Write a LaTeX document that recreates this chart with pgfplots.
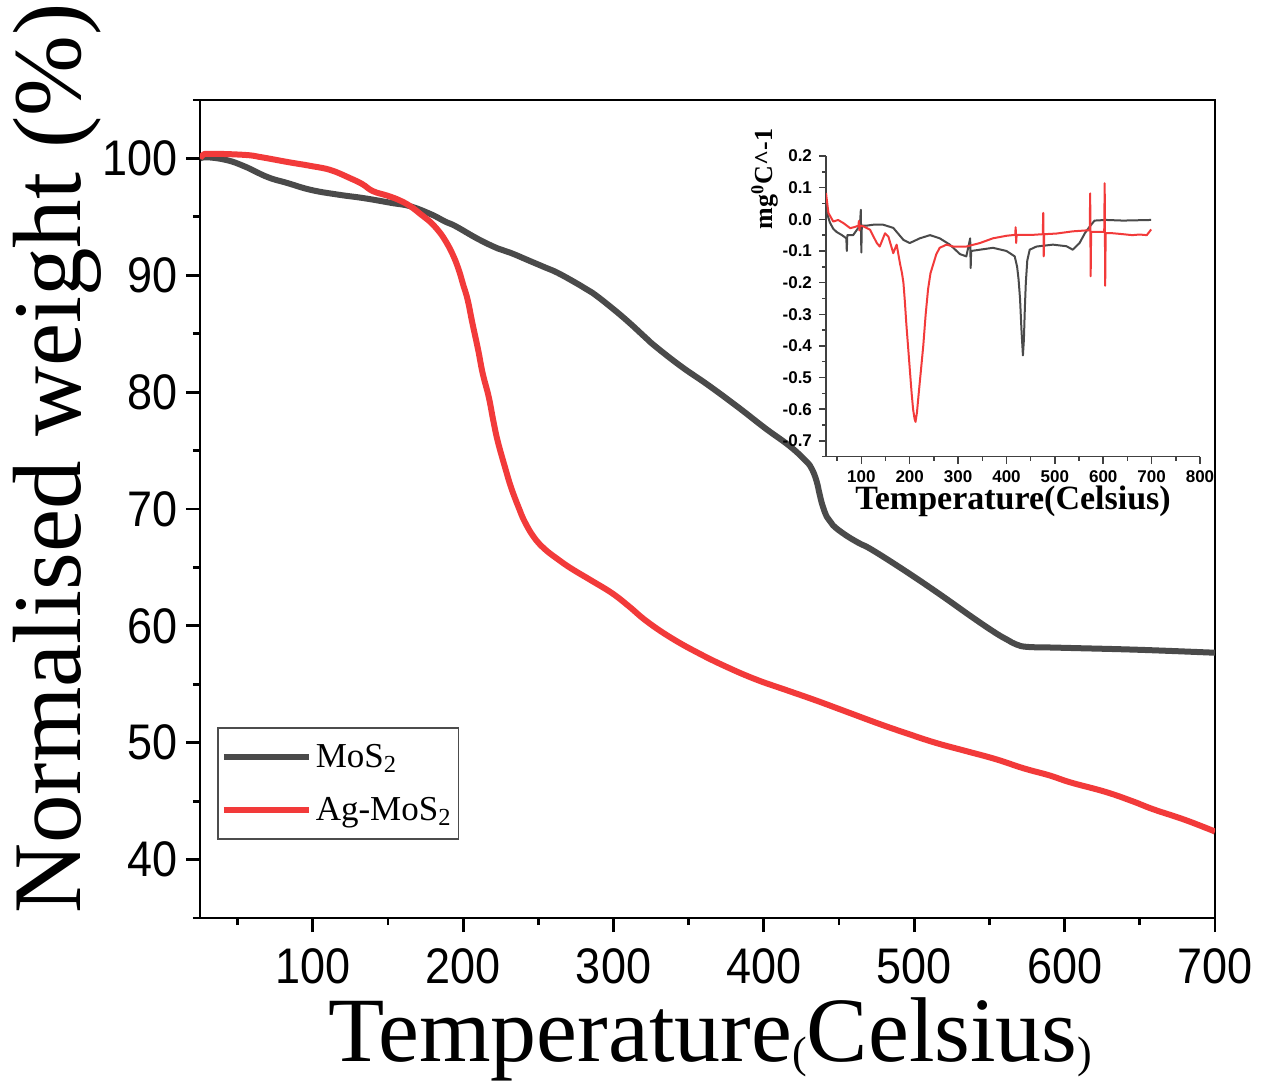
\documentclass[border=0pt]{standalone}
\usepackage{fontspec}
\setmainfont{Liberation Serif}
\setsansfont{Liberation Sans}
\usepackage{pgfplots}
\pgfplotsset{compat=1.18}
\definecolor{mgray}{RGB}{74,74,74}
\definecolor{mred}{RGB}{242,58,58}

\begin{document}
\begin{tikzpicture}
\useasboundingbox (-100pt,-82pt) rectangle (531pt,459pt);
\begin{axis}[
 at={(0pt,0pt)}, anchor=south west,
 width=507.5pt, height=409pt, scale only axis,
 xmin=25, xmax=700, ymin=35, ymax=105,
 xtick={100,200,...,700}, ytick={40,50,...,100},
 minor xtick={50,150,...,650}, minor ytick={35,45,...,105},
 tick pos=left, tick align=outside,
 major tick length=7pt, minor tick length=3.5pt,
 axis line style={line width=1.4pt},
 every tick/.style={black, line width=1.4pt},
 /pgf/number format/assume math mode=true,
 tick label style={font=\fontsize{25}{25}\selectfont\sffamily},
 xticklabel={\scalebox{0.9}[1]{\pgfmathprintnumber{\tick}}},
 yticklabel={\scalebox{0.9}[1]{\pgfmathprintnumber{\tick}}},
 xticklabel style={yshift=-5pt},
 yticklabel style={xshift=-0.5pt},
 xlabel={Temperature{\fontsize{22}{22}\selectfont\raisebox{-3pt}{(}}Celsius{\fontsize{22}{22}\selectfont\raisebox{-3pt}{)}}},
 ylabel={Normalised weight (\%)},
 xlabel style={at={(axis description cs:0.503,-0.176)}, anchor=base, font=\fontsize{46}{46}\selectfont, inner sep=0pt},
 ylabel style={at={(axis description cs:-0.118,0.562)}, anchor=base, font=\fontsize{48.5}{48.5}\selectfont, inner sep=0pt},
 legend style={at={(axis description cs:0.01675,0.0954)}, anchor=south west, draw=black!70, line width=0.75pt,
   font=\fontsize{17.5}{20}\selectfont, inner xsep=1.5pt, inner ysep=6pt, row sep=9.5pt},
 legend cell align=left,
 legend image code/.code={\draw[#1,line width=3pt] (0pt,0pt) -- (42.5pt,0pt);},
]
\addplot[mgray, line width=3pt, smooth, tension=0.7, line join=round] coordinates {
(25,100.0) (30,100.1) (43,99.85) (55,99.3) (70,98.4) (83,97.9) (99,97.3) (117,96.9) (134,96.6) (152,96.2)
(165,95.9) (179,95.2) (188,94.6) (195,94.2) (210,93.1) (223,92.3) (232,91.9) (243,91.3) (254,90.7) (263,90.2)
(277,89.2) (286,88.5) (299,87.2) (310,86.0) (321,84.7) (328,83.9) (345,82.2) (363,80.6) (383,78.7) (401,76.9)
(417,75.4) (428,74.1) (432,73.4) (435,72.4) (437,71.3) (439,70.3) (442,69.3) (446,68.6) (454,67.8) (463,67.1)
(472,66.5) (494,64.7) (517,62.7) (539,60.7) (554,59.4) (562,58.8) (568,58.4) (575,58.2) (590,58.15) (606,58.1)
(650,57.95) (700,57.7)
};
\addlegendentry{MoS\textsubscript{2}}
\addplot[mred, line width=3pt, smooth, tension=0.7, line join=round] coordinates {
(25,100.0) (27,100.3) (32,100.4) (55,100.3) (66,100.1) (83,99.7) (99,99.35) (112,99.0) (125,98.3) (133,97.8)
(140,97.2) (150,96.8) (158,96.4) (165,95.9) (172,95.2) (177,94.7) (183,93.9) (188,93.0) (193,91.8) (197,90.5)
(200,89.2) (203,87.9) (206,86.0) (210,83.6) (213,81.6) (217,79.6) (220,77.6) (223,75.8) (228,73.5) (232,71.8)
(237,70.1) (241,68.9) (247,67.6) (254,66.6) (263,65.7) (272,64.9) (285,63.9) (299,62.8) (310,61.7) (322,60.4) (338,59.0) (356,57.7)
(375,56.5) (395,55.4) (415,54.5) (435,53.6) (456,52.6) (477,51.6) (495,50.8) (514,50.0) (534,49.3) (554,48.6) (573,47.8) (590,47.2) (604,46.6) (627,45.8) (645,45.0) (659,44.3) (680,43.4)
(700,42.4)
};
\addlegendentry{Ag-MoS\textsubscript{2}}
\end{axis}

\begin{axis}[
 at={(313pt,230.65pt)}, anchor=south west,
 width=187pt, height=150.35pt, scale only axis,
 xmin=27, xmax=800, ymin=-0.75, ymax=0.2,
 axis lines*=left,
 xtick={100,200,...,800}, ytick={-0.7,-0.6,-0.5,-0.4,-0.3,-0.2,-0.1,0,0.1,0.2},
 minor xtick={50,150,...,750}, minor ytick={-0.75,-0.65,-0.55,-0.45,-0.35,-0.25,-0.15,-0.05,0.05,0.15},
 tick align=outside,
 major tick length=3.5pt, minor tick length=2pt,
 axis line style={line width=0.75pt, black!75},
 every tick/.style={black!75, line width=0.75pt},
 /pgf/number format/assume math mode=true,
 yticklabel style={/pgf/number format/.cd, fixed, fixed zerofill, precision=1},
 tick label style={font=\fontsize{8.5}{8.5}\selectfont\sffamily\bfseries},
 xlabel={Temperature(Celsius)},
 ylabel={mg\textsuperscript{0}C\textasciicircum-1},
 xlabel style={at={(axis description cs:0.5,-0.177)}, anchor=base, font=\fontsize{17}{17}\selectfont\bfseries, inner sep=0pt},
 ylabel style={at={(axis description cs:-0.144,0.9235)}, anchor=base, font=\fontsize{13}{13}\selectfont\bfseries, inner sep=0pt},
]
\addplot[mgray, line width=1pt, line join=round] coordinates {
(27,0.03) (35,-0.01) (42,-0.03) (49,-0.04) (60,-0.05) (69,-0.06) (70,-0.10) (71,-0.05) (83,-0.05) (97,-0.02)
(99,0.03) (100,-0.105) (101,-0.02) (111,-0.02) (125,-0.017) (145,-0.017) (166,-0.027) (187,-0.065) (200,-0.075)
(221,-0.06) (242,-0.05) (262,-0.06) (283,-0.08) (304,-0.11) (317,-0.117) (325,-0.06) (326,-0.154) (327,-0.10)
(345,-0.096) (372,-0.09) (400,-0.10) (417,-0.117) (422,-0.15) (425,-0.19) (428,-0.25) (431,-0.35) (434,-0.43) (436,-0.38) (438,-0.28)
(440,-0.20) (443,-0.13) (448,-0.096) (462,-0.086) (496,-0.08) (524,-0.085) (537,-0.096) (551,-0.075) (562,-0.044)
(572,-0.023) (582,-0.004) (606,-0.002) (641,-0.004) (699,-0.002)
};
\addplot[mred, line width=1pt, line join=round] coordinates {
(27,0.083) (32,0.02) (42,-0.007) (52,-0.002) (63,-0.012) (77,-0.028) (87,-0.024) (94,-0.02) (95,-0.005) (96,-0.035)
(97,-0.02) (104,-0.022) (118,-0.033) (132,-0.075) (138,-0.086) (149,-0.044) (156,-0.055) (166,-0.107) (173,-0.08)
(180,-0.14) (184,-0.17) (187,-0.20) (190,-0.26) (193,-0.33) (197,-0.41) (200,-0.47) (204,-0.55) (207,-0.60) (210,-0.63) (212,-0.64) (215,-0.61) (218,-0.56)
(223,-0.48) (228,-0.40) (233,-0.30) (238,-0.22) (243,-0.17)
(249,-0.14) (255,-0.11) (262,-0.09) (276,-0.08) (290,-0.086) (317,-0.086) (345,-0.075) (372,-0.06) (400,-0.052) (418,-0.049)
(419,-0.025) (420,-0.075) (421,-0.049) (455,-0.049) (475,-0.047) (476,0.02) (477,-0.117) (478,-0.047) (503,-0.045)
(537,-0.038) (565,-0.035) (572,-0.035) (573,0.082) (574,-0.18) (575,-0.04) (586,-0.04) (602,-0.04) (603,0.114)
(604,-0.21) (605,-0.044) (620,-0.044) (641,-0.047) (660,-0.05) (675,-0.048) (690,-0.05) (699,-0.032)
};
\end{axis}
\end{tikzpicture}
\end{document}
